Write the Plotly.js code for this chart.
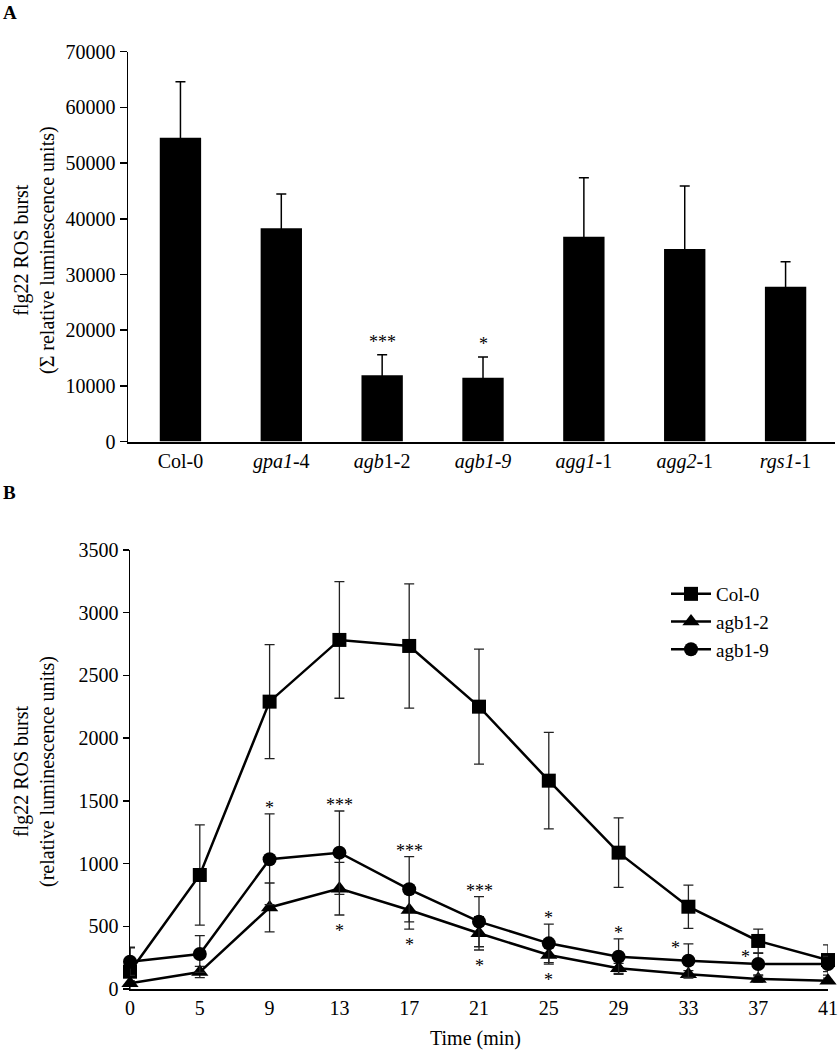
<!DOCTYPE html>
<html><head><meta charset="utf-8">
<script src="https://cdn.plot.ly/plotly-3.0.1.min.js"></script>
<style>body{margin:0;background:#fff}#chart{width:839px;height:1050px}</style>
</head><body><div id="chart"></div>
<script>
// ---- Panel A data ----
const genotypes = ['Col-0','gpa1-4','agb1-2','agb1-9','agg1-1','agg2-1','rgs1-1'];
const genotypeLabels = ['Col-0','<i>gpa1</i>-4','<i>agb</i>1-2','<i>agb1-9</i>','<i>agg1</i>-1','<i>agg2</i>-1','<i>rgs1</i>-1'];
const totalBurst = [54560, 38300, 11900, 11480, 36790, 34580, 27810];
const totalBurstErr = [10040, 6150, 3700, 3710, 10590, 11310, 4490];
const sigA = ['', '', '***', '*', '', '', ''];

// ---- Panel B data ----
const times = ['0','5','9','13','17','21','25','29','33','37','41'];
const col0 = [138, 909, 2291, 2783, 2735, 2251, 1661, 1087, 656, 383, 231];
const col0Err = [195, 400, 455, 465, 495, 458, 385, 277, 172, 95, 120];
const agb12 = [45, 135, 650, 800, 630, 444, 271, 165, 117, 80, 66];
const agb12Err = [20, 45, 195, 210, 152, 133, 72, 40, 30, 25, 20];
const agb19 = [218, 279, 1034, 1087, 795, 537, 364, 258, 226, 199, 199];
const agb19Err = [110, 146, 362, 332, 260, 200, 154, 141, 133, 86, 60];
const sigAgb19 = ['', '', '*', '***', '***', '***', '*', '*', '*', '*', ''];
const sigAgb12 = ['', '', '', '*', '*', '*', '*', '', '', '', ''];

const W = 839, H = 1050;
const px = v => v / W, py = v => 1 - v / H;
const FONT = 'Liberation Serif, Times New Roman, serif';
const FS = 20;

const traces = [
  {type:'bar', x:genotypes, y:totalBurst, xaxis:'x', yaxis:'y', width:0.41,
   marker:{color:'#000'}, showlegend:false,
   error_y:{type:'data', array:totalBurstErr, color:'#000', thickness:1.5, width:5}},
];

const lineSeries = [
  {name:'Col-0', y:col0, e:col0Err, sym:'square', size:14},
  {name:'agb1-2', y:agb12, e:agb12Err, sym:'triangle-up', size:15},
  {name:'agb1-9', y:agb19, e:agb19Err, sym:'circle', size:14},
];
lineSeries.forEach((s, i) => {
  traces.push({type:'scatter', mode:'lines+markers', name:s.name, x:times, y:s.y,
    xaxis:'x2', yaxis:'y2', cliponaxis:false, legendgroup:'g'+i,
    line:{color:'#000', width:2.5}, marker:{symbol:s.sym, size:s.size, color:'#000'},
    error_y:{type:'data', array:s.e, color:'#222', thickness:1.3, width:5}});
});

const txt = (o) => Object.assign({showarrow:false, xanchor:'center', yanchor:'middle', font:{family:FONT, size:FS, color:'#000'}}, o);
const annotations = [
  txt({text:'<b>A</b>', xref:'paper', yref:'paper', x:px(1), y:py(0), xanchor:'left', yanchor:'top', font:{family:FONT, size:19, color:'#000'}}),
  txt({text:'<b>B</b>', xref:'paper', yref:'paper', x:px(1), y:py(480), xanchor:'left', yanchor:'top', font:{family:FONT, size:19, color:'#000'}}),
  txt({text:'flg22 ROS burst<br>(Σ relative luminescence units)', xref:'paper', yref:'paper', x:px(34), y:py(250), textangle:-90}),
  txt({text:'flg22 ROS burst<br>(relative luminescence units)', xref:'paper', yref:'paper', x:px(34), y:py(772), textangle:-90}),
  txt({text:'Time (min)', xref:'paper', yref:'paper', x:px(475), y:py(1038)}),
];
sigA.forEach((t, i) => {
  if (!t) return;
  annotations.push(txt({text:t, xref:'x', yref:'y', x:i, y:totalBurst[i]+totalBurstErr[i], yshift:13, font:{family:FONT, size:18, color:'#000'}}));
});
sigAgb19.forEach((t, i) => {
  if (!t) return;
  const side = (times[i] === '33' || times[i] === '37');
  annotations.push(txt({text:t, xref:'x2', yref:'y2', x:i, y:agb19[i]+agb19Err[i], xshift: side ? -13 : 0, yshift: side ? -4 : 6, font:{family:FONT, size:18, color:'#000'}}));
});
sigAgb12.forEach((t, i) => {
  if (!t) return;
  annotations.push(txt({text:t, xref:'x2', yref:'y2', x:i, y:agb12[i]-agb12Err[i], yshift:-16, font:{family:FONT, size:18, color:'#000'}}));
});

const axisCommon = {showgrid:false, zeroline:false, showline:true, linecolor:'#000',
  tickfont:{family:FONT, size:FS, color:'#000'}, fixedrange:true};

const layout = {
  width:W, height:H, margin:{l:0, r:0, t:0, b:0},
  paper_bgcolor:'#fff', plot_bgcolor:'rgba(0,0,0,0)',
  font:{family:FONT, color:'#000'},
  xaxis: Object.assign({}, axisCommon, {domain:[px(128), px(835)], anchor:'y', type:'category',
    range:[-0.52, 6.49], tickvals:genotypes, ticktext:genotypeLabels, ticks:'', linewidth:2.2, automargin:false}),
  yaxis: Object.assign({}, axisCommon, {domain:[py(441.6), py(51.7)], anchor:'x', range:[0, 70000],
    tickvals:[0,10000,20000,30000,40000,50000,60000,70000], tickformat:'d', ticks:'outside', ticklen:7, tickwidth:1.5, tickcolor:'#000', linewidth:1.5, automargin:false}),
  xaxis2: Object.assign({}, axisCommon, {domain:[px(130), px(828)], anchor:'y2', type:'category',
    range:[0, 10], ticks:'', linewidth:2.2, automargin:false}),
  yaxis2: Object.assign({}, axisCommon, {domain:[py(989), py(550)], anchor:'x2', range:[0, 3500],
    tickvals:[0,500,1000,1500,2000,2500,3000,3500], tickformat:'d', ticks:'outside', ticklen:6, tickwidth:1.5, tickcolor:'#000', linewidth:1.5, automargin:false}),
  showlegend:true,
  legend:{x:px(666), y:py(575), xanchor:'left', yanchor:'top', bgcolor:'rgba(0,0,0,0)', borderwidth:0,
    font:{family:FONT, size:19, color:'#000'}, traceorder:'grouped', tracegroupgap:0, itemwidth:40},
  annotations: annotations,
};

Plotly.newPlot('chart', traces, layout, {displayModeBar:false, staticPlot:true});
</script></body></html>
